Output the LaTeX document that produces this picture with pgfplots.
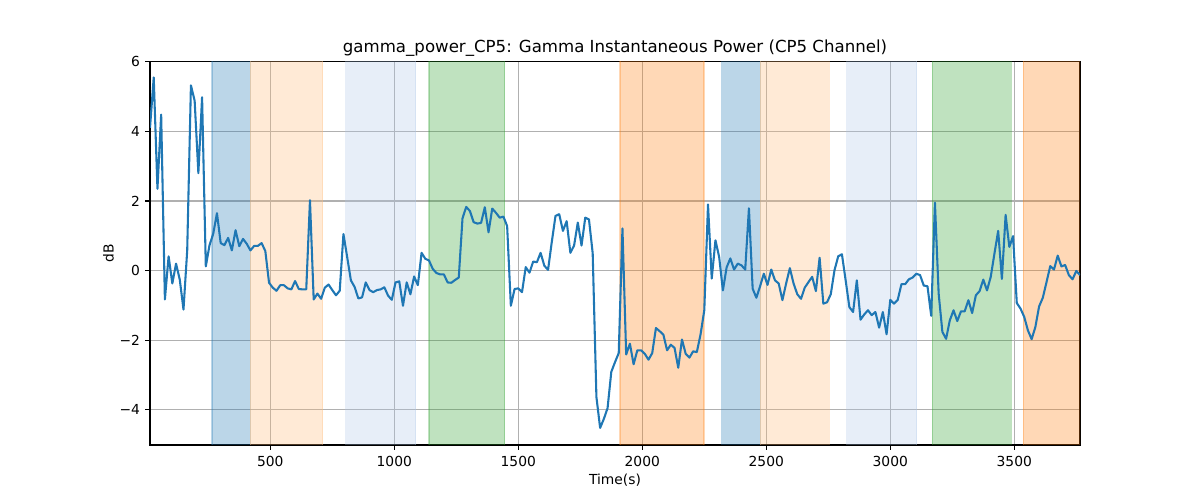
\documentclass[border=0pt]{standalone}
\usepackage{fontspec}
\setmainfont{DejaVu Sans}
\usepackage{pgfplots}
\usepackage{pgfplotstable}
\pgfplotsset{compat=1.18}
\definecolor{c0}{HTML}{1F77B4}
\definecolor{c1}{HTML}{FF7F0E}
\definecolor{c1l}{HTML}{FFBB78}
\definecolor{c0l}{HTML}{AEC7E8}
\definecolor{c2}{HTML}{2CA02C}
\definecolor{gridc}{HTML}{B0B0B0}
\pgfplotstableread{
x y
15 4.1
30 5.55
45 2.35
60 4.48
75 -0.83
90 0.41
105 -0.37
120 0.2
135 -0.26
150 -1.12
165 0.58
180 5.32
195 4.88
210 2.8
225 4.98
240 0.12
255 0.73
270 1.06
285 1.65
300 0.79
315 0.73
330 0.94
345 0.58
360 1.16
375 0.7
390 0.91
405 0.77
420 0.58
435 0.71
450 0.71
465 0.79
480 0.56
495 -0.35
510 -0.49
525 -0.58
540 -0.42
555 -0.42
570 -0.51
585 -0.54
600 -0.3
615 -0.53
630 -0.54
645 -0.54
660 2.02
675 -0.83
690 -0.66
705 -0.81
720 -0.49
735 -0.4
750 -0.56
765 -0.71
780 -0.58
795 1.05
810 0.39
825 -0.28
840 -0.47
855 -0.8
870 -0.77
885 -0.34
900 -0.56
915 -0.62
930 -0.56
945 -0.54
960 -0.48
975 -0.72
990 -0.84
1005 -0.34
1020 -0.31
1035 -1.01
1050 -0.34
1065 -0.68
1080 -0.17
1095 -0.42
1110 0.51
1125 0.34
1140 0.29
1155 0.05
1170 -0.07
1185 -0.11
1200 -0.11
1215 -0.34
1230 -0.35
1245 -0.27
1260 -0.2
1275 1.5
1290 1.83
1305 1.71
1320 1.39
1335 1.35
1350 1.37
1365 1.82
1380 1.1
1395 1.78
1410 1.66
1425 1.52
1440 1.55
1455 1.28
1470 -1.01
1485 -0.53
1500 -0.51
1515 -0.62
1530 0.1
1545 -0.06
1560 0.26
1575 0.24
1590 0.51
1605 0.14
1620 0.02
1635 0.82
1650 1.57
1665 1.62
1680 1.14
1695 1.42
1710 0.51
1725 0.72
1740 1.38
1755 0.72
1770 1.52
1785 1.47
1800 0.5
1815 -3.63
1830 -4.52
1845 -4.26
1860 -3.95
1875 -2.91
1890 -2.63
1905 -2.37
1920 1.21
1935 -2.41
1950 -2.1
1965 -2.69
1980 -2.29
1995 -2.29
2010 -2.39
2025 -2.56
2040 -2.37
2055 -1.65
2070 -1.74
2085 -1.84
2100 -2.29
2115 -2.13
2130 -2.22
2145 -2.79
2160 -1.98
2175 -2.39
2190 -2.5
2205 -2.32
2220 -2.34
2235 -1.83
2250 -1.14
2265 1.9
2280 -0.23
2295 0.87
2310 0.39
2325 -0.57
2340 0.09
2355 0.35
2370 0.03
2385 0.2
2400 0.15
2415 0.03
2430 1.79
2445 -0.52
2460 -0.78
2475 -0.45
2490 -0.09
2505 -0.41
2520 0.03
2535 -0.28
2550 -0.37
2565 -0.85
2580 -0.37
2595 0.07
2610 -0.37
2625 -0.68
2640 -0.81
2655 -0.49
2670 -0.33
2685 -0.18
2700 -0.59
2715 0.37
2730 -0.95
2745 -0.91
2760 -0.68
2775 0.01
2790 0.41
2805 0.47
2820 -0.28
2835 -1.05
2850 -1.19
2865 -0.28
2880 -1.41
2895 -1.26
2910 -1.14
2925 -1.28
2940 -1.19
2955 -1.64
2970 -1.19
2985 -1.83
3000 -0.84
3015 -0.95
3030 -0.84
3045 -0.39
3060 -0.39
3075 -0.25
3090 -0.2
3105 -0.09
3120 -0.13
3135 -0.43
3150 -0.45
3165 -1.3
3180 1.95
3195 -0.66
3210 -1.76
3225 -1.96
3240 -1.43
3255 -1.14
3270 -1.45
3285 -1.17
3300 -1.17
3315 -0.85
3330 -1.22
3345 -0.71
3360 -0.59
3375 -0.26
3390 -0.57
3405 -0.18
3420 0.49
3435 1.14
3450 -0.24
3465 1.6
3480 0.68
3495 0.99
3510 -0.93
3525 -1.09
3540 -1.33
3555 -1.72
3570 -1.97
3585 -1.62
3600 -1.03
3615 -0.78
3630 -0.33
3645 0.13
3660 0.03
3675 0.43
3690 0.12
3705 0.16
3720 -0.13
3735 -0.25
3750 -0.01
3765 -0.13
}\gammadata
\begin{document}
\begin{tikzpicture}
\useasboundingbox (0,0) rectangle (867.24pt,361.35pt);
\begin{axis}[
  at={(108.41pt,39.75pt)}, anchor=south west,
  scale only axis, width=672.11pt, height=277.0pt,
  xmin=15, xmax=3765, ymin=-5.01, ymax=6.0,
  xtick={500,1000,1500,2000,2500,3000,3500},
  ytick={-4,-2,0,2,4,6},
  yticklabels={−4,−2,0,2,4,6},
  /pgf/number format/assume math mode=true,
  /pgf/number format/1000 sep={},
  xtick pos=bottom, ytick pos=left,
  tick align=outside, major tick length=3.5pt,
  tick style={black, line width=0.8pt},
  axis line style={black, line width=0.8pt},
  grid=major,
  major grid style={gridc, line width=0.8pt},
  ticklabel style={font=\fontsize{10}{12}\selectfont},
  xticklabel style={inner sep=0pt, anchor=base, yshift=-11.9pt},
  yticklabel style={inner sep=0pt, anchor=east, xshift=-3.5pt},
  clip=true,
]
\addplot[draw=c0, fill=c0, opacity=0.3, line width=0.8pt] coordinates {(265,-6) (265,7) (419,7) (419,-6)} -- cycle;
\addplot[draw=c1l, fill=c1l, opacity=0.3, line width=0.8pt] coordinates {(419,-6) (419,7) (711,7) (711,-6)} -- cycle;
\addplot[draw=c0l, fill=c0l, opacity=0.3, line width=0.8pt] coordinates {(805,-6) (805,7) (1086,7) (1086,-6)} -- cycle;
\addplot[draw=c2, fill=c2, opacity=0.3, line width=0.8pt] coordinates {(1140,-6) (1140,7) (1445,7) (1445,-6)} -- cycle;
\addplot[draw=c1, fill=c1, opacity=0.3, line width=0.8pt] coordinates {(1910,-6) (1910,7) (2249,7) (2249,-6)} -- cycle;
\addplot[draw=c0, fill=c0, opacity=0.3, line width=0.8pt] coordinates {(2321,-6) (2321,7) (2476,7) (2476,-6)} -- cycle;
\addplot[draw=c1l, fill=c1l, opacity=0.3, line width=0.8pt] coordinates {(2476,-6) (2476,7) (2754,7) (2754,-6)} -- cycle;
\addplot[draw=c0l, fill=c0l, opacity=0.3, line width=0.8pt] coordinates {(2825,-6) (2825,7) (3106,7) (3106,-6)} -- cycle;
\addplot[draw=c2, fill=c2, opacity=0.3, line width=0.8pt] coordinates {(3170,-6) (3170,7) (3487,7) (3487,-6)} -- cycle;
\addplot[draw=c1, fill=c1, opacity=0.3, line width=0.8pt] coordinates {(3536,-6) (3536,7) (3800,7) (3800,-6)} -- cycle;
\addplot[c0, line width=1.5pt, mark=none, line join=round] table[x=x, y=y] {\gammadata};
\end{axis}
\node[anchor=base, inner sep=0pt, font=\fontsize{12}{14.4}\selectfont] at (444.47pt,323.3pt) {gamma\_power\_CP5: Gamma Instantaneous Power (CP5 Channel)};
\node[anchor=base, inner sep=0pt, font=\fontsize{10}{12}\selectfont] at (444.47pt,10.9pt) {Time(s)};
\node[anchor=center, inner sep=0pt, rotate=90, font=\fontsize{10}{12}\selectfont] at (78.3pt,178.3pt) {dB};
\end{tikzpicture}
\end{document}
